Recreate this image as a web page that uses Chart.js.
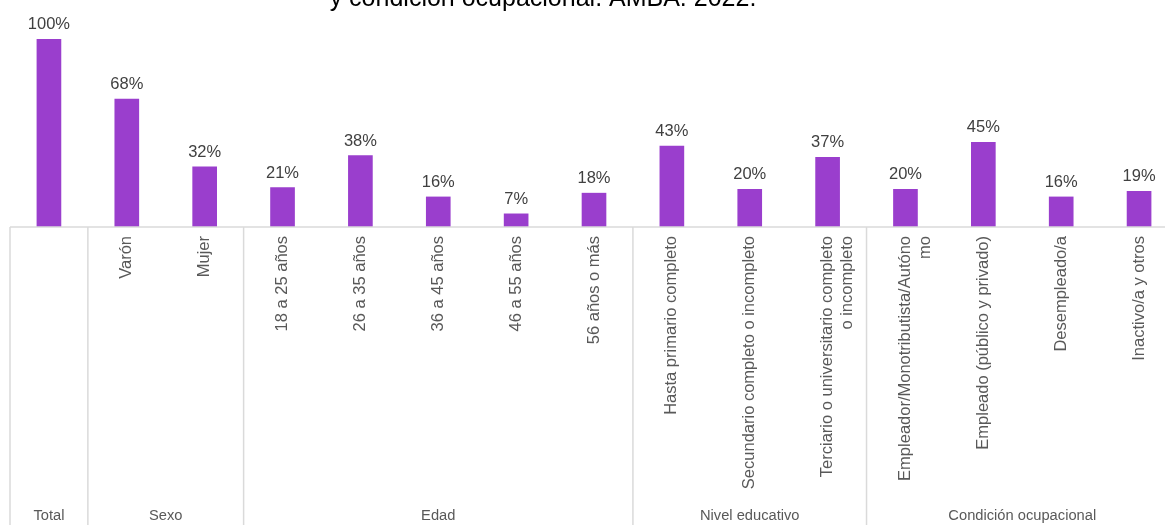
<!DOCTYPE html>
<html>
<head>
<meta charset="utf-8">
<script src="https://cdn.jsdelivr.net/npm/chart.js@4"></script>
<style>
  body { margin: 0; background: #fff; overflow: hidden; }
  #wrap { width: 1180px; height: 525px; position: relative; }
</style>
</head>
<body>
<div id="wrap"><canvas id="myChart"></canvas></div>
<script>
const categories = [
  'Total',
  'Varón', 'Mujer',
  '18 a 25 años', '26 a 35 años', '36 a 45 años', '46 a 55 años', '56 años o más',
  'Hasta primario completo', 'Secundario completo o incompleto',
  ['Terciario o universitario completo', 'o incompleto'],
  ['Empleador/Monotributista/Autóno', 'mo'], 'Empleado (público y privado)', 'Desempleado/a', 'Inactivo/a y otros'
];
const values = [100, 68, 32, 21, 38, 16, 7, 18, 43, 20, 37, 20, 45, 16, 19];
const groupNames = ['Total', 'Sexo', 'Edad', 'Nivel educativo', 'Condición ocupacional'];
const groupSizes = [1, 2, 5, 3, 4];
const titleText = 'y condición ocupacional. AMBA. 2022.';

const fontFamily = "'Liberation Sans', Arial, sans-serif";

// value labels above each bar
const barLabels = {
  id: 'barLabels',
  afterDatasetsDraw(chart) {
    const ctx = chart.ctx;
    const meta = chart.getDatasetMeta(0);
    ctx.save();
    ctx.font = '16.5px ' + fontFamily;
    ctx.fillStyle = '#404040';
    ctx.textAlign = 'center';
    ctx.textBaseline = 'alphabetic';
    meta.data.forEach(function (bar, i) {
      ctx.fillText(values[i] + '%', bar.x, bar.y - 10);
    });
    ctx.restore();
  }
};

// title line, axis line, group separators and group names
const groupAxis = {
  id: 'groupAxis',
  afterDraw(chart) {
    const ctx = chart.ctx;
    const x = chart.scales.x;
    const half = (x.getPixelForValue(1) - x.getPixelForValue(0)) / 2;
    const axisY = chart.chartArea.bottom;
    ctx.save();

    ctx.font = '25px ' + fontFamily;
    ctx.fillStyle = '#000';
    ctx.textAlign = 'center';
    ctx.textBaseline = 'alphabetic';
    ctx.fillText(titleText, 543, 6);

    ctx.strokeStyle = '#dadada';
    ctx.lineWidth = 1.5;
    ctx.beginPath();
    ctx.moveTo(x.left, axisY);
    ctx.lineTo(x.right, axisY);
    ctx.stroke();

    ctx.font = '14.7px ' + fontFamily;
    ctx.fillStyle = '#595959';
    ctx.textBaseline = 'middle';
    let start = 0;
    groupSizes.forEach(function (n, g) {
      const left = x.getPixelForValue(start) - half;
      const right = x.getPixelForValue(start + n - 1) + half;
      ctx.beginPath();
      ctx.moveTo(left, axisY);
      ctx.lineTo(left, chart.height);
      ctx.stroke();
      ctx.fillText(groupNames[g], (left + right) / 2, 516);
      start += n;
    });
    ctx.restore();
  }
};

const ctx = document.getElementById('myChart').getContext('2d');
const myChart = new Chart(ctx, {
  type: 'bar',
  data: {
    labels: categories,
    datasets: [{
      data: values,
      backgroundColor: '#9a3ecd',
      barThickness: 24
    }]
  },
  options: {
    responsive: true,
    maintainAspectRatio: false,
    animation: false,
    layout: { padding: { top: 39, left: 10, right: 2, bottom: 0 } },
    plugins: {
      legend: { display: false },
      tooltip: { enabled: false }
    },
    scales: {
      x: {
        grid: { display: false, drawTicks: false },
        border: { display: false },
        ticks: {
          autoSkip: false,
          minRotation: 90,
          maxRotation: 90,
          padding: 9,
          color: '#595959',
          font: { family: fontFamily, size: 16.5 },
          // the Total column only shows its group name at the bottom
          callback: function (value, index) {
            return index === 0 ? '' : categories[index];
          }
        },
        afterFit: function (scale) { scale.height = 298; }
      },
      y: { display: false, min: 0, max: 100 }
    }
  },
  plugins: [barLabels, groupAxis]
});
</script>
</body>
</html>
